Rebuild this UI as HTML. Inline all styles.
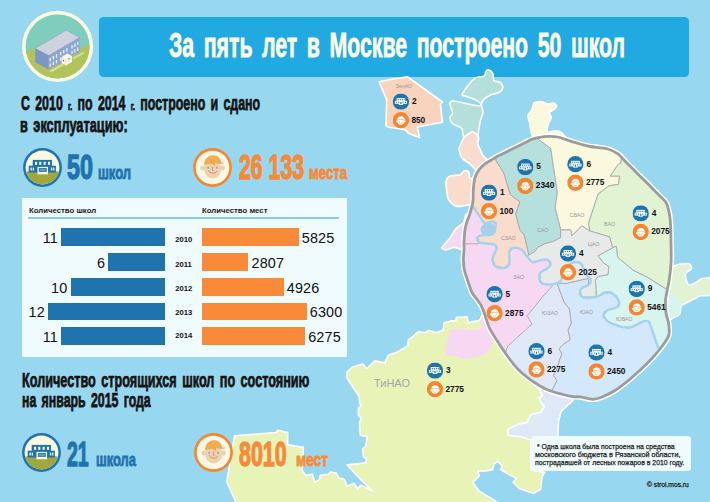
<!DOCTYPE html>
<html><head><meta charset="utf-8">
<style>
*{margin:0;padding:0;box-sizing:border-box}
html,body{width:710px;height:502px;overflow:hidden;background:#98d7f0}
body{position:relative;font-family:"Liberation Sans",sans-serif}
.abs{position:absolute}
.cond{position:absolute;white-space:nowrap;font-weight:bold;transform-origin:0 0;line-height:1}
#map{position:absolute;left:0;top:0;width:710px;height:502px}
#hdr{position:absolute;left:99px;top:17px;width:589.5px;height:59.6px;background:#21a9e2;border-radius:4.5px}
#panel{position:absolute;left:22px;top:198px;width:325px;height:159px;background:#effbfd}
.bar{position:absolute;height:18px}
.b{background:#1f74ad}
.o{background:#f88a3a}
.num{position:absolute;font-size:14.4px;letter-spacing:0.15px;color:#111;line-height:1;white-space:nowrap}
.lbl{position:absolute;font-size:8px;font-weight:bold;color:#1a1a1a;line-height:1;white-space:nowrap}
.yr{position:absolute;font-size:7.6px;font-weight:bold;color:#111;line-height:1}
#note{position:absolute;left:531px;top:436.3px;width:160.3px;height:34.3px;background:#effbfd;border-radius:3px}
.nt{position:absolute;font-size:7.6px;-webkit-text-stroke:0.25px #1a1a1a;color:#1a1a1a;white-space:nowrap;line-height:1;transform-origin:0 0}
.mn{font-size:8.3px;font-weight:bold;fill:#111;font-family:"Liberation Sans",sans-serif}
text{font-family:"Liberation Sans",sans-serif}
</style></head>
<body>

<div id="hdr"></div>
<svg id="map" viewBox="0 0 710 502">
<path d="M347.0,371.8 L346.9,377.8 L352.0,386.0 L358.8,395.7 L359.8,403.7 L361.4,405.1 L358.4,408.1 L358.4,415.2 L361.4,418.3 L359.4,422.3 L360.4,435.5 L367.5,436.5 L365.5,446.7 L362.5,448.7 L363.5,456.8 L366.5,458.8 L365.5,462.9 L347.2,464.9 L360.4,479.1 L372.6,491.3 L363.5,486.2 L360.4,485.2 L357.4,489.2 L354.3,483.2 L347.2,486.2 L344.2,479.1 L339.1,478.1 L336.1,473.0 L330.4,472.0 L328.2,474.2 L320.3,475.4 L319.2,479.9 L314.6,482.1 L312.4,474.2 L305.6,475.4 L302.3,470.8 L303.4,447.2 L287.6,444.9 L287.6,432.5 L277.5,430.3 L276.3,432.5 L234.6,435.9 L226.8,482.0 L235.8,502.0 L235.8,520.0 L497.0,520.0 L497.0,502.0 L479.2,491.3 L472.8,482.4 L479.2,476.0 L477.9,471.0 L485.6,471.0 L492.7,469.6 L494.1,464.0 L497.6,461.1 L502.5,466.1 L500.4,469.6 L516.6,478.7 L513.1,482.3 L519.4,488.6 L533.5,493.5 L540.6,489.3 L542.0,476.6 L544.8,472.4 L531.0,470.0 L531.0,437.0 L520.6,436.8 L507.9,435.0 L507.9,429.2 L518.9,424.0 L527.3,422.4 L530.7,414.8 L540.8,412.3 L544.2,406.3 L541.7,403.8 L539.2,397.9 L542.5,395.4 L539.2,388.6 L525.0,370.0 L500.0,330.0 L482.0,315.0 L480.2,319.5 L478.1,320.9 L472.6,321.6 L468.4,323.0 L467.0,316.7 L462.1,317.4 L456.5,317.4 L455.8,320.9 L450.9,320.9 L444.0,323.0 L443.3,330.0 L436.3,332.8 L428.7,330.3 L424.9,332.8 L418.6,331.6 L409.7,339.2 L408.6,339.0 L407.6,345.9 L397.7,351.9 L388.7,354.9 L384.7,362.9 L374.8,360.9 L366.8,368.8 L362.8,363.9 L352.9,366.9Z" fill="#e8f3b8" stroke="#fff" stroke-width="1.6" stroke-linejoin="round"/>
<path d="M535.0,383.0 L573.0,393.0 L573.0,400.4 L561.1,411.4 L558.6,420.7 L557.7,440.0 L531.0,440.0 L520.6,436.8 L507.9,435.0 L507.9,429.2 L518.9,424.0 L527.3,422.4 L530.7,414.8 L540.8,412.3 L544.2,406.3 L541.7,403.8 L539.2,397.9 L542.5,395.4 L539.2,388.6Z" fill="#dfe8f6" stroke="#fff" stroke-width="1.6" stroke-linejoin="round"/>
<path d="M445.3,355.1 C444.5,353.7 446.4,344.5 447.0,342.0 C447.6,339.5 449.4,331.3 450.9,330.0 C452.4,328.7 460.0,328.6 462.1,328.6 C464.2,328.6 469.9,330.1 471.9,330.0 C473.8,329.9 480.8,328.8 481.6,327.9 C482.4,327.0 480.0,321.9 480.2,320.9 C480.4,319.9 482.7,317.7 483.7,318.1 C484.7,318.5 489.0,322.8 490.0,325.0 C491.0,327.2 494.0,337.6 494.0,340.0 C494.0,342.4 490.8,347.4 490.0,348.8 C489.2,350.2 488.0,352.6 485.8,353.7 C483.6,354.8 470.8,359.1 467.7,359.3 C464.6,359.5 457.3,356.2 455.1,355.8 C452.9,355.4 446.1,356.5 445.3,355.1Z" fill="#f7d8f3"/>
<path d="M379.1,81.8 L393.0,79.0 L407.6,76.9 L442.5,102.0 L440.4,104.0 L442.5,122.2 L417.4,127.0 L419.5,137.5 L408.3,133.3 L405.5,129.8 L388.0,127.0 L386.0,125.7 L386.7,99.9Z" fill="#f8d4bc" stroke="#fff" stroke-width="1.6" stroke-linejoin="round"/>
<path d="M488.4,69.9 C489.6,70.2 492.0,71.7 492.9,73.5 C493.8,75.3 492.6,79.1 493.8,80.6 C495.0,82.1 498.6,81.2 500.1,82.4 C501.6,83.6 503.0,86.2 502.8,87.8 C502.6,89.4 501.3,91.1 499.2,92.3 C497.1,93.5 492.9,93.7 490.2,95.0 C487.5,96.3 484.5,98.8 483.0,100.4 C481.5,102.0 481.3,102.9 481.3,104.8 C481.3,106.7 483.1,109.3 483.0,112.0 C482.9,114.7 481.1,118.0 480.4,121.0 C479.7,124.0 479.1,127.6 478.6,130.0 C478.2,132.4 478.8,135.0 477.7,135.3 C476.6,135.6 474.6,131.4 472.3,131.7 C470.1,132.0 466.0,137.7 464.2,137.1 C462.4,136.5 463.4,130.4 461.5,128.2 C459.6,126.0 454.5,125.5 452.6,123.7 C450.7,121.9 449.9,119.2 449.9,117.4 C449.9,115.6 452.6,115.1 452.6,112.9 C452.6,110.7 449.9,106.0 449.9,104.0 C449.9,102.0 450.4,101.2 452.6,101.0 C454.8,100.8 459.2,102.2 463.3,103.0 C467.4,103.8 474.6,105.5 477.5,105.8 C480.4,106.0 481.2,105.4 481.0,104.5 C480.8,103.6 479.0,101.8 476.5,100.4 C474.0,99.0 468.3,97.3 466.0,96.2 C463.7,95.1 461.1,96.7 462.5,93.8 C463.9,90.9 470.5,81.8 474.1,78.8 C477.7,75.8 482.1,77.3 484.0,76.1 C485.9,74.9 485.0,72.7 485.7,71.7 C486.4,70.7 487.2,69.6 488.4,69.9Z" fill="#b4dfda" stroke="#fff" stroke-width="1.6" stroke-linejoin="round"/>
<path d="M464.2,137.1 C464.7,136.6 471.6,131.8 472.3,131.7 C473.0,131.6 477.4,134.9 477.7,135.3 C478.0,135.7 478.6,138.5 478.6,138.9 C478.6,139.3 477.6,143.7 477.7,144.3 C477.8,144.9 480.2,149.5 480.4,150.0 C480.6,150.5 482.1,154.4 482.5,155.0 C482.9,155.6 488.5,160.8 488.3,161.6 C488.1,162.4 478.9,171.9 478.0,172.0 C477.1,172.1 470.8,164.7 470.0,164.0 C469.2,163.3 462.6,159.1 462.0,158.3 C461.4,157.6 458.8,149.8 458.8,149.0 C458.8,148.2 461.2,143.1 461.5,142.5 C461.8,141.9 463.7,137.6 464.2,137.1Z" fill="#f9dcd0" stroke="#fff" stroke-width="1.6" stroke-linejoin="round"/>
<path d="M446.0,182.0 C446.5,179.3 447.7,177.2 450.0,176.0 C452.3,174.8 457.6,175.8 459.9,175.0 C462.2,174.2 462.4,171.5 463.9,171.0 C465.4,170.5 467.8,170.8 468.8,172.0 C469.8,173.2 468.9,176.3 469.8,178.0 C470.7,179.7 473.5,177.2 474.0,182.0 C474.5,186.8 473.7,203.2 473.0,207.0 C472.3,210.8 472.7,204.9 470.0,204.8 C467.3,204.7 460.3,207.1 456.7,206.2 C453.1,205.3 450.0,201.6 448.4,199.2 C446.8,196.8 447.4,194.9 447.0,192.0 C446.6,189.1 445.5,184.7 446.0,182.0Z" fill="#f9dccb" stroke="#fff" stroke-width="1.6" stroke-linejoin="round"/>
<path d="M466.0,214.0 L463.7,222.9 L456.0,228.5 L450.0,238.0 L441.4,248.0 L445.6,250.1 L454.0,247.3 L463.0,250.0 L463.0,230.0Z" fill="#f7d8f3" stroke="#fff" stroke-width="1.6" stroke-linejoin="round"/>
<path d="M533.3,104.8 C533.8,103.6 532.9,103.5 534.2,103.0 C535.5,102.5 539.1,101.4 541.3,101.6 C543.5,101.8 545.5,103.8 547.6,104.0 C549.7,104.2 552.4,102.6 553.9,103.0 C555.4,103.4 556.8,105.4 556.6,106.6 C556.5,107.8 554.2,109.2 553.0,110.2 C551.8,111.2 549.7,111.3 549.4,112.5 C549.1,113.7 551.4,115.4 551.2,117.4 C551.0,119.4 548.6,122.2 548.0,124.6 C547.4,127.0 546.5,130.6 547.6,131.7 C548.7,132.8 552.7,130.9 554.8,130.9 C556.9,130.9 558.3,130.8 560.0,131.7 C561.7,132.6 563.2,134.6 565.2,136.5 C567.2,138.4 575.4,140.8 572.0,143.0 C568.6,145.2 551.6,151.3 545.0,150.0 C538.4,148.7 534.9,139.8 532.4,135.3 C529.9,130.8 530.5,126.1 529.7,122.8 C529.0,119.5 527.6,117.7 527.9,115.6 C528.2,113.5 530.6,112.0 531.5,110.2 C532.4,108.4 532.8,106.0 533.3,104.8Z" fill="#faf8dd" stroke="#fff" stroke-width="1.6" stroke-linejoin="round"/>
<path d="M668.0,262.0 C670.0,256.4 670.1,265.8 671.9,266.2 C673.7,266.6 675.9,264.9 678.7,264.5 C681.5,264.1 686.7,262.9 688.8,263.6 C690.9,264.3 691.8,267.1 691.4,268.7 C691.0,270.2 687.3,271.6 686.3,272.9 C685.3,274.2 685.1,274.3 685.5,276.3 C685.9,278.3 687.0,283.8 688.8,284.8 C690.6,285.8 694.4,283.2 696.5,282.2 C698.6,281.2 699.7,279.5 701.5,278.8 C703.3,278.1 705.8,278.0 707.5,278.0 C709.2,278.0 711.2,276.1 712.0,278.8 C712.8,281.5 713.9,291.3 712.0,294.1 C710.1,296.9 703.7,295.0 700.7,295.8 C697.7,296.6 696.4,297.8 693.9,299.1 C691.4,300.4 687.6,302.3 685.5,303.4 C683.4,304.5 682.2,304.1 681.2,305.9 C680.2,307.7 680.9,312.4 679.5,314.4 C678.1,316.4 674.6,316.9 672.8,317.8 C671.0,318.7 670.6,322.5 668.5,319.5 C666.4,316.5 660.1,309.6 660.0,300.0 C659.9,290.4 666.0,267.6 668.0,262.0Z" fill="#e1f3d2" stroke="#fff" stroke-width="1.6" stroke-linejoin="round"/>
<path d="M666.8,290.7 L675.3,295.8 L682.1,304.2 L681.2,305.9 L679.5,314.4 L672.8,317.8 L668.5,319.5 L662.0,310.0Z" fill="#d8f4ee"/>
<defs><clipPath id="rc"><path d="M464.0,250.0 C464.1,246.9 463.8,245.0 464.0,241.6 C464.2,238.2 464.5,233.0 465.0,229.7 C465.5,226.4 466.2,224.4 467.0,221.7 C467.8,219.0 468.9,217.0 469.9,213.7 C470.9,210.4 472.3,205.8 472.9,201.8 C473.5,197.8 473.0,193.8 473.3,189.8 C473.6,185.8 474.0,181.2 474.9,177.9 C475.8,174.6 477.2,172.2 478.9,169.9 C480.6,167.6 483.0,165.5 484.9,163.9 C486.8,162.3 488.2,161.8 490.5,160.5 C492.8,159.2 495.1,157.6 498.5,155.8 C501.9,154.0 506.9,151.7 511.1,149.6 C515.3,147.5 520.3,145.1 523.8,143.3 C527.3,141.6 529.7,140.1 532.3,139.1 C534.9,138.1 536.5,137.9 539.3,137.4 C542.1,136.9 546.2,136.4 549.2,136.3 C552.2,136.2 554.3,136.3 557.6,137.0 C560.9,137.7 565.1,139.3 568.9,140.5 C572.6,141.7 576.6,143.0 580.1,144.0 C583.6,145.0 585.4,145.7 590.0,146.5 C594.6,147.3 603.2,147.8 607.9,149.0 C612.5,150.2 614.9,151.8 617.9,153.9 C620.9,156.1 622.6,158.6 625.9,161.9 C629.2,165.2 633.8,169.9 637.8,173.9 C641.8,177.9 645.8,181.8 649.8,185.8 C653.8,189.8 658.9,194.8 661.7,197.8 C664.5,200.8 665.4,200.7 666.7,203.7 C668.0,206.7 669.0,211.7 669.7,215.7 C670.4,219.7 670.5,222.9 670.7,227.6 C670.9,232.3 670.9,238.3 671.0,244.0 C671.1,249.7 671.4,256.1 671.1,261.9 C670.8,267.7 670.1,273.7 669.4,278.8 C668.7,283.9 667.4,288.7 666.8,292.4 C666.1,296.1 665.6,297.4 665.5,300.8 C665.4,304.2 665.5,309.0 666.0,312.7 C666.5,316.4 668.0,319.9 668.5,322.8 C669.0,325.7 669.2,327.7 669.2,330.0 C669.2,332.3 669.7,333.5 668.4,336.4 C667.1,339.3 664.0,343.8 661.2,347.5 C658.4,351.2 655.2,355.0 651.7,358.7 C648.2,362.4 644.5,366.1 640.5,369.8 C636.5,373.5 632.0,377.6 627.8,381.0 C623.5,384.4 619.2,387.9 615.0,390.5 C610.8,393.1 606.0,395.4 602.3,396.9 C598.6,398.4 596.4,399.3 592.7,399.3 C589.0,399.3 583.6,397.4 580.0,396.9 C576.4,396.4 576.0,397.3 571.0,396.3 C566.0,395.3 555.4,392.7 550.0,390.8 C544.6,388.9 542.2,387.2 538.5,385.0 C534.8,382.8 531.4,380.5 527.9,377.8 C524.4,375.1 521.0,372.4 517.5,368.7 C514.0,365.0 510.6,360.5 507.2,355.8 C503.8,351.1 499.8,345.1 496.8,340.3 C493.8,335.6 491.2,332.0 489.1,327.3 C487.0,322.6 485.3,315.7 483.9,311.9 C482.5,308.1 481.9,306.9 480.7,304.7 C479.5,302.5 477.9,300.8 476.5,298.8 C475.1,296.8 473.3,295.1 472.0,292.5 C470.7,289.9 469.9,287.0 468.6,283.3 C467.4,279.6 465.4,274.3 464.5,270.4 C463.6,266.5 463.5,263.4 463.4,260.0 C463.3,256.6 463.9,253.1 464.0,250.0Z"/></clipPath></defs>
<path d="M464.0,250.0 C464.1,246.9 463.8,245.0 464.0,241.6 C464.2,238.2 464.5,233.0 465.0,229.7 C465.5,226.4 466.2,224.4 467.0,221.7 C467.8,219.0 468.9,217.0 469.9,213.7 C470.9,210.4 472.3,205.8 472.9,201.8 C473.5,197.8 473.0,193.8 473.3,189.8 C473.6,185.8 474.0,181.2 474.9,177.9 C475.8,174.6 477.2,172.2 478.9,169.9 C480.6,167.6 483.0,165.5 484.9,163.9 C486.8,162.3 488.2,161.8 490.5,160.5 C492.8,159.2 495.1,157.6 498.5,155.8 C501.9,154.0 506.9,151.7 511.1,149.6 C515.3,147.5 520.3,145.1 523.8,143.3 C527.3,141.6 529.7,140.1 532.3,139.1 C534.9,138.1 536.5,137.9 539.3,137.4 C542.1,136.9 546.2,136.4 549.2,136.3 C552.2,136.2 554.3,136.3 557.6,137.0 C560.9,137.7 565.1,139.3 568.9,140.5 C572.6,141.7 576.6,143.0 580.1,144.0 C583.6,145.0 585.4,145.7 590.0,146.5 C594.6,147.3 603.2,147.8 607.9,149.0 C612.5,150.2 614.9,151.8 617.9,153.9 C620.9,156.1 622.6,158.6 625.9,161.9 C629.2,165.2 633.8,169.9 637.8,173.9 C641.8,177.9 645.8,181.8 649.8,185.8 C653.8,189.8 658.9,194.8 661.7,197.8 C664.5,200.8 665.4,200.7 666.7,203.7 C668.0,206.7 669.0,211.7 669.7,215.7 C670.4,219.7 670.5,222.9 670.7,227.6 C670.9,232.3 670.9,238.3 671.0,244.0 C671.1,249.7 671.4,256.1 671.1,261.9 C670.8,267.7 670.1,273.7 669.4,278.8 C668.7,283.9 667.4,288.7 666.8,292.4 C666.1,296.1 665.6,297.4 665.5,300.8 C665.4,304.2 665.5,309.0 666.0,312.7 C666.5,316.4 668.0,319.9 668.5,322.8 C669.0,325.7 669.2,327.7 669.2,330.0 C669.2,332.3 669.7,333.5 668.4,336.4 C667.1,339.3 664.0,343.8 661.2,347.5 C658.4,351.2 655.2,355.0 651.7,358.7 C648.2,362.4 644.5,366.1 640.5,369.8 C636.5,373.5 632.0,377.6 627.8,381.0 C623.5,384.4 619.2,387.9 615.0,390.5 C610.8,393.1 606.0,395.4 602.3,396.9 C598.6,398.4 596.4,399.3 592.7,399.3 C589.0,399.3 583.6,397.4 580.0,396.9 C576.4,396.4 576.0,397.3 571.0,396.3 C566.0,395.3 555.4,392.7 550.0,390.8 C544.6,388.9 542.2,387.2 538.5,385.0 C534.8,382.8 531.4,380.5 527.9,377.8 C524.4,375.1 521.0,372.4 517.5,368.7 C514.0,365.0 510.6,360.5 507.2,355.8 C503.8,351.1 499.8,345.1 496.8,340.3 C493.8,335.6 491.2,332.0 489.1,327.3 C487.0,322.6 485.3,315.7 483.9,311.9 C482.5,308.1 481.9,306.9 480.7,304.7 C479.5,302.5 477.9,300.8 476.5,298.8 C475.1,296.8 473.3,295.1 472.0,292.5 C470.7,289.9 469.9,287.0 468.6,283.3 C467.4,279.6 465.4,274.3 464.5,270.4 C463.6,266.5 463.5,263.4 463.4,260.0 C463.3,256.6 463.9,253.1 464.0,250.0Z" fill="none" stroke="#fff" stroke-width="5.6"/>
<g clip-path="url(#rc)">
<path d="M430.0,200.0 L700.0,200.0 L700.0,420.0 L430.0,420.0Z" fill="#f7d8f3"/>
<path d="M430.0,130.0 L496.0,130.0 L496.0,160.5 L503.7,172.6 L510.3,194.5 L520.0,202.0 L515.7,214.0 L520.0,230.0 L524.3,235.0 L528.8,254.4 L527.5,257.0 L521.1,249.2 L513.3,247.9 L509.4,251.8 L509.4,263.5 L504.2,268.0 L495.2,266.1 L492.6,258.3 L496.5,249.2 L495.5,245.0 L490.0,243.8 L479.0,242.4 L477.7,236.8 L481.8,235.4 L491.6,234.0 L495.8,225.0 L493.0,221.5 L484.6,222.9 L480.4,217.3 L474.2,208.2 L472.0,205.0 L430.0,205.0Z" fill="#f9dccb" stroke="#a9a9a9" stroke-width="0.9" stroke-linejoin="round"/>
<path d="M496.0,120.0 L535.0,120.0 L537.6,138.6 L550.8,148.5 L553.0,164.0 L557.4,192.3 L555.2,207.6 L560.8,229.9 L560.5,237.6 L553.4,241.5 L545.7,243.4 L537.9,247.3 L534.7,251.8 L527.5,255.7 L528.8,254.4 L524.3,235.0 L520.0,230.0 L515.7,214.0 L520.0,202.0 L510.3,194.5 L503.7,172.6 L496.0,160.5Z" fill="#b5e0dd" stroke="#a9a9a9" stroke-width="0.9" stroke-linejoin="round"/>
<path d="M535.0,120.0 L625.0,120.0 L621.0,163.0 L618.5,164.2 L610.2,176.0 L619.7,176.0 L618.5,184.5 L609.0,185.7 L598.2,194.0 L588.7,222.7 L589.7,230.9 L581.8,225.9 L571.8,235.9 L570.8,229.9 L560.8,229.9 L555.2,207.6 L557.4,192.3 L553.0,164.0 L550.8,148.5 L537.6,138.6Z" fill="#faf8dd" stroke="#a9a9a9" stroke-width="0.9" stroke-linejoin="round"/>
<path d="M625.0,120.0 L700.0,120.0 L700.0,285.0 L666.5,289.3 L647.4,277.4 L633.0,270.2 L617.5,257.0 L616.3,246.3 L612.6,247.8 L609.6,236.9 L589.7,230.9 L588.7,222.7 L598.2,194.0 L609.0,185.7 L618.5,184.5 L619.7,176.0 L610.2,176.0 L618.5,164.2 L621.0,163.0Z" fill="#e1f3d2" stroke="#a9a9a9" stroke-width="0.9" stroke-linejoin="round"/>
<path d="M612.6,247.8 L616.3,246.3 L617.5,257.0 L633.0,270.2 L647.4,277.4 L666.5,289.3 L700.0,300.0 L700.0,360.0 L658.0,347.0 L651.0,327.0 L648.5,321.2 L642.0,322.0 L630.0,327.5 L620.0,326.5 L608.8,322.1 L603.4,315.9 L607.0,310.5 L617.8,306.9 L618.7,300.6 L612.4,293.4 L605.2,292.5 L598.0,296.1 L596.3,297.0 L595.4,280.0 L598.0,276.4 L607.9,274.6 L608.8,266.5 L603.4,262.9 L598.0,255.8Z" fill="#d8f4ee" stroke="#a9a9a9" stroke-width="0.9" stroke-linejoin="round"/>
<path d="M556.8,283.0 L565.8,283.6 L572.9,281.8 L589.1,278.2 L588.2,284.5 L580.1,289.8 L581.9,297.0 L596.3,297.0 L598.0,296.1 L605.2,292.5 L612.4,293.4 L618.7,300.6 L617.8,306.9 L607.0,310.5 L603.4,315.9 L608.8,322.1 L620.0,326.5 L630.0,327.5 L642.0,322.0 L648.5,321.2 L651.0,327.0 L658.0,347.0 L700.0,380.0 L600.0,420.0 L551.0,392.3 L557.0,380.3 L553.4,375.5 L556.2,370.7 L559.4,360.0 L561.8,353.8 L559.0,349.0 L563.0,344.5 L570.1,339.8 L568.0,330.0 L571.2,323.0 L569.3,308.7 L564.0,302.4Z" fill="#d3e8fb" stroke="#a9a9a9" stroke-width="0.9" stroke-linejoin="round"/>
<path d="M554.0,284.0 L556.8,283.0 L564.0,302.4 L569.3,308.7 L571.2,323.0 L568.0,330.0 L570.1,339.8 L563.0,344.5 L559.0,349.0 L561.8,353.8 L559.4,360.0 L556.2,370.7 L553.4,375.5 L557.0,380.3 L551.0,392.3 L540.0,420.0 L480.0,420.0 L507.7,346.2 L531.9,324.2 L527.2,315.8 L542.7,296.7Z" fill="#e0e8f8" stroke="#a9a9a9" stroke-width="0.9" stroke-linejoin="round"/>
<path d="M527.5,257.0 L527.5,255.7 L534.7,251.8 L537.9,247.3 L545.7,243.4 L553.4,241.5 L560.5,237.6 L560.8,229.9 L570.8,229.9 L571.8,235.9 L581.8,225.9 L589.7,230.9 L609.6,236.9 L612.6,247.8 L598.0,255.8 L603.4,262.9 L608.8,266.5 L607.9,274.6 L598.0,276.4 L595.4,280.0 L596.3,297.0 L581.9,297.0 L580.1,289.8 L588.2,284.5 L589.1,278.2 L572.9,281.8 L565.8,283.6 L556.8,282.7 L553.4,284.2 L544.4,284.2 L539.8,280.3 L540.5,272.5 L547.0,268.7 L550.8,264.1 L547.0,259.6 L540.5,260.2 L532.7,262.2Z" fill="#e8eaea" stroke="#a9a9a9" stroke-width="0.9" stroke-linejoin="round"/>
<line x1="462" y1="243.8" x2="478.5" y2="243.8" stroke="#a9a9a9" stroke-width="0.9"/>
<ellipse cx="488.5" cy="229.5" rx="8" ry="6.8" fill="#a7cfeb"/>
<path d="M472.0,205.0 C472.4,205.5 472.8,206.1 474.2,208.2 C475.6,210.2 478.7,214.9 480.4,217.3 C482.1,219.8 482.5,222.2 484.6,222.9 C486.7,223.6 491.1,221.2 493.0,221.5 C494.9,221.8 496.0,222.9 495.8,225.0 C495.6,227.1 493.9,232.3 491.6,234.0 C489.3,235.7 484.1,234.9 481.8,235.4 C479.5,235.9 478.2,235.6 477.7,236.8 C477.2,238.0 476.9,241.2 479.0,242.4 C481.1,243.6 487.2,243.4 490.0,243.8 C492.8,244.2 494.4,244.1 495.5,245.0 C496.6,245.9 497.0,247.0 496.5,249.2 C496.0,251.4 492.8,255.5 492.6,258.3 C492.4,261.1 493.3,264.5 495.2,266.1 C497.1,267.7 501.8,268.4 504.2,268.0 C506.6,267.6 508.5,266.2 509.4,263.5 C510.3,260.8 508.8,254.4 509.4,251.8 C510.0,249.2 511.3,248.3 513.3,247.9 C515.2,247.5 518.7,247.7 521.1,249.2 C523.5,250.7 525.6,254.8 527.5,257.0 C529.4,259.2 530.5,261.7 532.7,262.2 C534.9,262.7 538.1,260.6 540.5,260.2 C542.9,259.8 545.3,259.0 547.0,259.6 C548.7,260.2 550.8,262.6 550.8,264.1 C550.8,265.6 548.7,267.3 547.0,268.7 C545.3,270.1 541.7,270.6 540.5,272.5 C539.3,274.4 539.1,278.4 539.8,280.3 C540.4,282.2 542.1,283.6 544.4,284.2 C546.7,284.8 550.8,284.6 553.4,284.2 C556.0,283.8 558.3,283.0 559.9,281.6 C561.5,280.2 561.4,278.8 563.0,276.0 C564.6,273.2 567.0,267.0 569.3,264.7 C571.5,262.4 574.4,262.0 576.5,262.0 C578.6,262.0 580.2,262.6 581.9,264.7 C583.5,266.8 584.9,272.1 586.4,274.6 C587.9,277.2 590.6,278.2 590.9,280.0 C591.2,281.8 589.7,284.1 588.2,285.4 C586.7,286.7 583.2,286.5 581.9,288.0 C580.5,289.5 579.5,292.7 580.1,294.3 C580.7,295.9 582.5,297.6 585.5,297.9 C588.5,298.2 594.7,297.0 598.0,296.1 C601.3,295.2 602.8,292.9 605.2,292.5 C607.6,292.1 610.1,292.0 612.4,293.4 C614.6,294.8 617.8,298.4 618.7,300.6 C619.6,302.9 619.8,305.2 617.8,306.9 C615.8,308.5 609.4,309.0 607.0,310.5 C604.6,312.0 603.1,314.0 603.4,315.9 C603.7,317.8 606.0,320.3 608.8,322.1 C611.6,323.9 616.5,325.6 620.0,326.5 C623.5,327.4 626.3,328.2 630.0,327.5 C633.7,326.8 638.9,323.1 642.0,322.0 C645.1,320.9 647.0,320.4 648.5,321.2 C650.0,322.0 649.4,322.7 651.0,327.0 C652.6,331.3 656.3,342.8 658.0,347.0 C659.7,351.2 660.5,351.2 661.0,352.0" fill="none" stroke="#a5d3ef" stroke-width="2.4" stroke-linecap="round" stroke-linejoin="round"/>
</g>
<path d="M464.0,250.0 C464.1,246.9 463.8,245.0 464.0,241.6 C464.2,238.2 464.5,233.0 465.0,229.7 C465.5,226.4 466.2,224.4 467.0,221.7 C467.8,219.0 468.9,217.0 469.9,213.7 C470.9,210.4 472.3,205.8 472.9,201.8 C473.5,197.8 473.0,193.8 473.3,189.8 C473.6,185.8 474.0,181.2 474.9,177.9 C475.8,174.6 477.2,172.2 478.9,169.9 C480.6,167.6 483.0,165.5 484.9,163.9 C486.8,162.3 488.2,161.8 490.5,160.5 C492.8,159.2 495.1,157.6 498.5,155.8 C501.9,154.0 506.9,151.7 511.1,149.6 C515.3,147.5 520.3,145.1 523.8,143.3 C527.3,141.6 529.7,140.1 532.3,139.1 C534.9,138.1 536.5,137.9 539.3,137.4 C542.1,136.9 546.2,136.4 549.2,136.3 C552.2,136.2 554.3,136.3 557.6,137.0 C560.9,137.7 565.1,139.3 568.9,140.5 C572.6,141.7 576.6,143.0 580.1,144.0 C583.6,145.0 585.4,145.7 590.0,146.5 C594.6,147.3 603.2,147.8 607.9,149.0 C612.5,150.2 614.9,151.8 617.9,153.9 C620.9,156.1 622.6,158.6 625.9,161.9 C629.2,165.2 633.8,169.9 637.8,173.9 C641.8,177.9 645.8,181.8 649.8,185.8 C653.8,189.8 658.9,194.8 661.7,197.8 C664.5,200.8 665.4,200.7 666.7,203.7 C668.0,206.7 669.0,211.7 669.7,215.7 C670.4,219.7 670.5,222.9 670.7,227.6 C670.9,232.3 670.9,238.3 671.0,244.0 C671.1,249.7 671.4,256.1 671.1,261.9 C670.8,267.7 670.1,273.7 669.4,278.8 C668.7,283.9 667.4,288.7 666.8,292.4 C666.1,296.1 665.6,297.4 665.5,300.8 C665.4,304.2 665.5,309.0 666.0,312.7 C666.5,316.4 668.0,319.9 668.5,322.8 C669.0,325.7 669.2,327.7 669.2,330.0 C669.2,332.3 669.7,333.5 668.4,336.4 C667.1,339.3 664.0,343.8 661.2,347.5 C658.4,351.2 655.2,355.0 651.7,358.7 C648.2,362.4 644.5,366.1 640.5,369.8 C636.5,373.5 632.0,377.6 627.8,381.0 C623.5,384.4 619.2,387.9 615.0,390.5 C610.8,393.1 606.0,395.4 602.3,396.9 C598.6,398.4 596.4,399.3 592.7,399.3 C589.0,399.3 583.6,397.4 580.0,396.9 C576.4,396.4 576.0,397.3 571.0,396.3 C566.0,395.3 555.4,392.7 550.0,390.8 C544.6,388.9 542.2,387.2 538.5,385.0 C534.8,382.8 531.4,380.5 527.9,377.8 C524.4,375.1 521.0,372.4 517.5,368.7 C514.0,365.0 510.6,360.5 507.2,355.8 C503.8,351.1 499.8,345.1 496.8,340.3 C493.8,335.6 491.2,332.0 489.1,327.3 C487.0,322.6 485.3,315.7 483.9,311.9 C482.5,308.1 481.9,306.9 480.7,304.7 C479.5,302.5 477.9,300.8 476.5,298.8 C475.1,296.8 473.3,295.1 472.0,292.5 C470.7,289.9 469.9,287.0 468.6,283.3 C467.4,279.6 465.4,274.3 464.5,270.4 C463.6,266.5 463.5,263.4 463.4,260.0 C463.3,256.6 463.9,253.1 464.0,250.0Z" fill="none" stroke="#9c9c9c" stroke-width="2.8"/>
</svg>
<div class="cond" id="ttl" style="left:169.0px;top:28.3px;font-size:34.6px;transform:scaleX(0.615);color:#fdfbe8;-webkit-text-stroke:0.8px #fdfbe8;word-spacing:6px">За пять лет в Москве построено 50 школ</div>

<svg class="abs" style="left:0;top:0" width="100" height="90" viewBox="0 0 100 90">
<defs><clipPath id="hic"><circle cx="57.6" cy="46.4" r="32.0"/></clipPath></defs>
<circle cx="57.6" cy="46.4" r="35.6" fill="#fcf9e1"/>
<g clip-path="url(#hic)">
<rect x="20" y="10" width="80" height="80" fill="#7fcdbd"/>
<path d="M20,53.2 L35.2,48.6 L79.7,48.6 L95,42.5 L95,90 L20,90Z" fill="#b2c35c"/>
<path d="M72,57.8 L83,52 L84.5,53.6 L73.5,59.5Z" fill="#cfe190"/>
</g>
<path d="M35.2,48.4 L66.3,30.2 L79.7,37.5 L48.7,55.6Z" fill="#cdd2de" stroke="#8fa4cf" stroke-width="0.6"/>
<path d="M35.2,48.4 L48.7,55.6 L48.7,69.6 L35.2,62.3Z" fill="#7d96c4"/>
<path d="M48.7,55.6 L79.7,37.5 L79.7,52 L48.7,69.6Z" fill="#8ea6d3"/>
<g fill="#eef2fa">
<rect x="49.61" y="57.92" width="1.3" height="3.3"/>
<rect x="49.61" y="63.52" width="1.3" height="3.3"/>
<rect x="52.72" y="56.10" width="1.3" height="3.3"/>
<rect x="52.72" y="61.70" width="1.3" height="3.3"/>
<rect x="55.82" y="54.29" width="1.3" height="3.3"/>
<rect x="55.82" y="59.89" width="1.3" height="3.3"/>
<rect x="59.97" y="51.87" width="1.3" height="3.3"/>
<rect x="59.97" y="57.47" width="1.3" height="3.3"/>
<rect x="63.08" y="50.05" width="1.3" height="3.3"/>
<rect x="63.08" y="55.65" width="1.3" height="3.3"/>
<rect x="66.19" y="48.24" width="1.3" height="3.3"/>
<rect x="66.19" y="53.84" width="1.3" height="3.3"/>
<rect x="71.37" y="45.21" width="1.3" height="3.3"/>
<rect x="71.37" y="50.81" width="1.3" height="3.3"/>
<rect x="74.17" y="43.58" width="1.3" height="3.3"/>
<rect x="74.17" y="49.18" width="1.3" height="3.3"/>
<rect x="77.07" y="41.89" width="1.3" height="3.3"/>
<rect x="77.07" y="47.49" width="1.3" height="3.3"/>
</g>
<path d="M49.5,70.8 L62.5,63.6 L64,65.2 L51,72.4Z" fill="#cfe190"/>
<path d="M61.6,57 L67.5,53.5 L72,56 L72,62 L66,65.5 L61.6,63Z" fill="#fbf7e6"/>
<path d="M61.6,57 L66,59.5 L72,56 L66,65.5Z" fill="#e9e6d3" opacity="0.6"/>
<rect x="63" y="60" width="1" height="1.5" fill="#556b9a"/><rect x="68.5" y="58" width="1" height="1.5" fill="#556b9a"/>
</svg>

<div class="cond" id="t1" style="left:21.0px;top:93.0px;font-size:20px;transform:scaleX(0.619);color:#141414;-webkit-text-stroke:0.75px #141414;word-spacing:3px">С 2010 <span style="font-size:11.5px">г.</span> по 2014 <span style="font-size:11.5px">г.</span> построено и сдано</div>
<div class="cond" id="t2" style="left:20.4px;top:114.5px;font-size:20px;transform:scaleX(0.639);color:#141414;-webkit-text-stroke:0.75px #141414;word-spacing:3px">в эксплуатацию:</div>

<div class="cond" id="n50" style="left:66.7px;top:149.9px;font-size:34.5px;transform:scaleX(0.676);color:#2173ad;-webkit-text-stroke:1.3px #2173ad">50</div>
<div class="cond" id="w50" style="left:98.3px;top:165.3px;font-size:17.7px;transform:scaleX(0.737);color:#2173ad;-webkit-text-stroke:0.8px #2173ad">школ</div>
<div class="cond" id="n26" style="left:238.6px;top:149.9px;font-size:34.5px;transform:scaleX(0.617);color:#f78a38;-webkit-text-stroke:1.3px #f78a38">26 133</div>
<div class="cond" id="w26" style="left:308.7px;top:165.3px;font-size:17.7px;transform:scaleX(0.745);color:#f78a38;-webkit-text-stroke:0.8px #f78a38">места</div>

<div id="panel"></div>
<div class="lbl" style="left:28.5px;top:207px;transform:scaleX(0.97);transform-origin:0 0">Количество школ</div>
<div class="lbl" style="left:201.5px;top:207px;transform:scaleX(0.97);transform-origin:0 0">Количество мест</div>
<div class="abs" style="left:28px;top:217.2px;width:311px;height:1.7px;background:#8ecbe9"></div>
<div class="bar b" style="left:61.2px;top:228.2px;width:104.2px;height:17.8px"></div>
<div class="bar o" style="left:201.5px;top:228.2px;width:97.1px;height:17.8px"></div>
<div class="num" style="right:652.0px;top:231.0px">11</div>
<div class="num" style="left:301.8px;top:231.0px">5825</div>
<div class="yr" style="left:175.3px;top:236.2px">2010</div>
<div class="bar b" style="left:108.3px;top:253.0px;width:57.1px;height:17.8px"></div>
<div class="bar o" style="left:201.5px;top:253.0px;width:46.8px;height:17.8px"></div>
<div class="num" style="right:604.9px;top:255.8px">6</div>
<div class="num" style="left:251.5px;top:255.8px">2807</div>
<div class="yr" style="left:175.3px;top:260.9px">2011</div>
<div class="bar b" style="left:70.5px;top:277.8px;width:94.9px;height:17.8px"></div>
<div class="bar o" style="left:201.5px;top:277.8px;width:82.1px;height:17.8px"></div>
<div class="num" style="right:642.7px;top:280.6px">10</div>
<div class="num" style="left:286.8px;top:280.6px">4926</div>
<div class="yr" style="left:175.3px;top:285.0px">2012</div>
<div class="bar b" style="left:48px;top:302.6px;width:117.4px;height:17.8px"></div>
<div class="bar o" style="left:201.5px;top:302.6px;width:105.1px;height:17.8px"></div>
<div class="num" style="right:665.2px;top:305.4px">12</div>
<div class="num" style="left:309.8px;top:305.4px">6300</div>
<div class="yr" style="left:175.3px;top:308.5px">2013</div>
<div class="bar b" style="left:61.2px;top:327.4px;width:104.2px;height:17.8px"></div>
<div class="bar o" style="left:201.5px;top:327.4px;width:103.5px;height:17.8px"></div>
<div class="num" style="right:652.0px;top:330.2px">11</div>
<div class="num" style="left:308.2px;top:330.2px">6275</div>
<div class="yr" style="left:175.3px;top:332.1px">2014</div>

<div class="cond" id="s1" style="left:22.1px;top:370.0px;font-size:20px;transform:scaleX(0.633);color:#141414;-webkit-text-stroke:0.75px #141414;word-spacing:3px">Количество строящихся школ по состоянию</div>
<div class="cond" id="s2" style="left:22.1px;top:390.3px;font-size:20px;transform:scaleX(0.617);color:#141414;-webkit-text-stroke:0.75px #141414;word-spacing:3px">на январь 2015 года</div>

<div class="cond" id="n21" style="left:67.0px;top:437.3px;font-size:34.5px;transform:scaleX(0.565);color:#2173ad;-webkit-text-stroke:1.3px #2173ad">21</div>
<div class="cond" id="w21" style="left:96.2px;top:452.3px;font-size:17.7px;transform:scaleX(0.729);color:#2173ad;-webkit-text-stroke:0.8px #2173ad">школа</div>
<div class="cond" id="n80" style="left:238.9px;top:437.3px;font-size:34.5px;transform:scaleX(0.620);color:#f78a38;-webkit-text-stroke:1.3px #f78a38">8010</div>
<div class="cond" id="w80" style="left:296.2px;top:452.4px;font-size:17.7px;transform:scaleX(0.775);color:#f78a38;-webkit-text-stroke:0.8px #f78a38">мест</div>

<div id="note"></div>
<div class="nt" style="left:537.3px;top:442.8px;transform:scaleX(0.906)">* Одна школа была построена на средства</div>
<div class="nt" style="left:535.1px;top:451px;transform:scaleX(0.947)">московского бюджета в Рязанской области,</div>
<div class="nt" style="left:535.1px;top:459.3px;transform:scaleX(0.907)">пострадавшей от лесных пожаров в 2010 году.</div>
<div class="nt" style="left:647.2px;top:481.6px;font-size:6.8px;transform:scaleX(0.986)">© stroi.mos.ru</div>
<!--ICONS-->
<svg width="0" height="0" style="position:absolute">
<defs>
<symbol id="mb" viewBox="-8.2 -8.2 16.4 16.4">
<circle r="8.2" fill="#1f74ae"/>
<rect x="-4.3" y="-3.5" width="8.6" height="3" fill="#fff"/>
<rect x="-6.1" y="-0.7" width="12.2" height="2.9" fill="#fff"/>
<rect x="-2.2" y="1.5" width="4.4" height="1.8" fill="#fff"/>
<g fill="#1f74ae"><rect x="-3.2" y="-2.6" width="1" height="1.3"/><rect x="-1.1" y="-2.6" width="1" height="1.3"/><rect x="1" y="-2.6" width="1" height="1.3"/><rect x="3" y="-2.6" width="0.7" height="1.3"/>
<rect x="-5.1" y="0.1" width="1" height="1.2"/><rect x="4.1" y="0.1" width="1" height="1.2"/><rect x="-2.6" y="0.1" width="1" height="1.2"/><rect x="1.6" y="0.1" width="1" height="1.2"/><rect x="-0.6" y="0.4" width="1.2" height="2"/></g>
</symbol>
<symbol id="mo" viewBox="-8.2 -8.2 16.4 16.4">
<circle r="8.2" fill="#f5862f"/>
<g transform="translate(0,0.4) scale(0.86)">
<circle cx="0" cy="0.6" r="4.3" fill="#fff"/>
<circle cx="-4.4" cy="0.9" r="1.2" fill="#fff"/><circle cx="4.4" cy="0.9" r="1.2" fill="#fff"/>
<path d="M-4.2,-1 C-4.2,-4.6 -1.5,-5.2 0.5,-5 C3,-4.8 4.2,-3.3 4.6,-1.6 L5.6,-1.4 L4.3,-0.6 C2,-1.6 -1,-1.8 -4.2,-1Z" fill="#fff"/>
<path d="M-4,-0.8 C-1,-1.8 2,-1.5 4.4,-0.7" fill="none" stroke="#f5862f" stroke-width="0.6"/>
<circle cx="-1.8" cy="0.6" r="0.55" fill="#f5862f"/><circle cx="1.8" cy="0.6" r="0.55" fill="#f5862f"/>
<path d="M-1.8,2.4 Q0,4 1.8,2.4" fill="none" stroke="#f5862f" stroke-width="0.6"/>
</g>
</symbol>
<symbol id="bs" viewBox="-19.5 -19.5 39 39">
<clipPath id="bsc"><circle r="16.9"/></clipPath>
<circle r="19.4" fill="#1f74b0"/>
<circle r="16.9" fill="#fbf8e2"/>
<g clip-path="url(#bsc)"><ellipse cx="0" cy="31" rx="40" ry="29.3" fill="#a0a83b"/></g>
<rect x="-9.8" y="-7.6" width="19.3" height="6.6" fill="#1f74b0"/>
<rect x="-13.8" y="-1.8" width="27.2" height="6.8" fill="#1f74b0"/>
<g fill="#fbf8e2">
<rect x="-7.5" y="-5.7" width="2.1" height="3"/><rect x="-3.3" y="-5.7" width="2.1" height="3"/><rect x="1.1" y="-5.7" width="2.1" height="3"/><rect x="5.5" y="-5.7" width="2.1" height="3"/>
<rect x="-12" y="0.1" width="1.3" height="2.9"/><rect x="-9.8" y="0.1" width="1.3" height="2.9"/>
<rect x="8.4" y="0.1" width="1.3" height="2.9"/><rect x="10.6" y="0.1" width="1.3" height="2.9"/>
<rect x="-5" y="-0.6" width="10.5" height="7.4"/>
</g>
<rect x="-3.6" y="0.5" width="7.9" height="3.9" fill="#2a7fb5"/>
<rect x="-2.4" y="1.4" width="5.5" height="2.1" fill="#53a3c9"/>
</symbol>
<symbol id="bf" viewBox="-19.5 -19.5 39 39">
<circle r="19.4" fill="#f7852c"/>
<circle r="16.8" fill="#fdf8e6"/>
<circle cx="-9.6" cy="0.6" r="2.5" fill="#ebd3b0"/><circle cx="9.8" cy="0.6" r="2.5" fill="#ebd3b0"/>
<ellipse cx="0.2" cy="1.8" rx="8.5" ry="9.1" fill="#ebd3b0"/>
<path d="M-8.4,-2.2 C-8.4,-9 -4,-12.3 1,-12.2 C5.5,-12 8.2,-8.8 8.8,-5 C10,-4.8 11,-4.9 11.6,-4.3 C8,-3.2 5,-3.4 2.5,-5.2 C3,-3.2 2.6,-2.3 2,-1.8 C0,-4.5 -4,-3.5 -8.4,-2.2Z" fill="#f3ac55"/>
<path d="M-4.5,-9.5 C-2,-8.5 1,-6 2.2,-2.5" fill="none" stroke="#e99a3e" stroke-width="0.7"/>
<circle cx="-4.4" cy="0.2" r="1" fill="#8ca8c8"/><circle cx="4.4" cy="0.2" r="1" fill="#8ca8c8"/>
<path d="M0,-0.6 C-1.5,0.5 1.8,2.2 0.2,3.4" fill="none" stroke="#ee7575" stroke-width="0.9" stroke-linecap="round"/>
<path d="M-4.2,3 C-2.8,6.5 2.8,6.8 4.4,3.6" fill="none" stroke="#ee7575" stroke-width="0.9" stroke-linecap="round"/>
</symbol>
</defs></svg>
<svg class="abs" style="left:22.6px;top:148.0px" width="39" height="39"><use href="#bs"/></svg>
<svg class="abs" style="left:193.2px;top:147.8px" width="39" height="39"><use href="#bf"/></svg>
<svg class="abs" style="left:22.3px;top:432.7px" width="39" height="39"><use href="#bs"/></svg>
<svg class="abs" style="left:193.5px;top:432.7px" width="39" height="39"><use href="#bf"/></svg>
<svg class="abs" style="left:0;top:0" width="710" height="502" viewBox="0 0 710 502">
<use href="#mb" x="392.7" y="93.4" width="16.4" height="16.4"/>
<use href="#mo" x="392.7" y="112.0" width="16.4" height="16.4"/>
<text x="411.9" y="103.8" class="mn">2</text>
<text x="411.4" y="122.6" class="mn">850</text>
<use href="#mb" x="517.1" y="158.9" width="16.4" height="16.4"/>
<use href="#mo" x="517.1" y="177.7" width="16.4" height="16.4"/>
<text x="536.3" y="169.3" class="mn">5</text>
<text x="535.8" y="188.3" class="mn">2340</text>
<use href="#mb" x="480.8" y="184.4" width="16.4" height="16.4"/>
<use href="#mo" x="480.8" y="203.0" width="16.4" height="16.4"/>
<text x="500.0" y="194.8" class="mn">1</text>
<text x="499.5" y="213.6" class="mn">100</text>
<use href="#mb" x="567.2" y="156.1" width="16.4" height="16.4"/>
<use href="#mo" x="567.2" y="174.5" width="16.4" height="16.4"/>
<text x="586.4" y="166.5" class="mn">6</text>
<text x="585.9" y="185.1" class="mn">2775</text>
<use href="#mb" x="632.5" y="205.2" width="16.4" height="16.4"/>
<use href="#mo" x="632.5" y="223.8" width="16.4" height="16.4"/>
<text x="651.7" y="215.6" class="mn">4</text>
<text x="651.2" y="234.4" class="mn">2075</text>
<use href="#mb" x="559.8" y="245.3" width="16.4" height="16.4"/>
<use href="#mo" x="559.8" y="264.0" width="16.4" height="16.4"/>
<text x="579.0" y="255.7" class="mn">4</text>
<text x="578.5" y="274.6" class="mn">2025</text>
<use href="#mb" x="486.4" y="286.1" width="16.4" height="16.4"/>
<use href="#mo" x="486.4" y="305.0" width="16.4" height="16.4"/>
<text x="505.6" y="296.5" class="mn">5</text>
<text x="505.1" y="315.6" class="mn">2875</text>
<use href="#mb" x="628.5" y="280.7" width="16.4" height="16.4"/>
<use href="#mo" x="628.5" y="299.3" width="16.4" height="16.4"/>
<text x="647.7" y="291.1" class="mn">9</text>
<text x="647.2" y="309.9" class="mn">5461</text>
<use href="#mb" x="528.3" y="343.1" width="16.4" height="16.4"/>
<use href="#mo" x="528.3" y="361.3" width="16.4" height="16.4"/>
<text x="547.5" y="353.5" class="mn">6</text>
<text x="547.0" y="371.9" class="mn">2275</text>
<use href="#mb" x="588.3" y="344.3" width="16.4" height="16.4"/>
<use href="#mo" x="588.3" y="363.3" width="16.4" height="16.4"/>
<text x="607.5" y="354.7" class="mn">4</text>
<text x="607.0" y="373.9" class="mn">2450</text>
<use href="#mb" x="426.8" y="362.4" width="16.4" height="16.4"/>
<use href="#mo" x="426.8" y="381.0" width="16.4" height="16.4"/>
<text x="446.0" y="372.8" class="mn">3</text>
<text x="445.5" y="391.6" class="mn">2775</text>
<text x="395.8" y="87.5" style="font-size:5.2px;fill:#9a9a9a">ЗелАО</text>
<text x="569.5" y="217" style="font-size:5.4px;fill:#9a9a9a">СВАО</text>
<text x="604" y="226" style="font-size:5.4px;fill:#9a9a9a">ВАО</text>
<text x="537" y="232" style="font-size:5.4px;fill:#9a9a9a">САО</text>
<text x="501" y="240" style="font-size:5.4px;fill:#9a9a9a">СЗАО</text>
<text x="587.7" y="246" style="font-size:5.4px;fill:#9a9a9a">ЦАО</text>
<text x="513.3" y="279" style="font-size:5.4px;fill:#9a9a9a">ЗАО</text>
<text x="541.7" y="314.5" style="font-size:5.4px;fill:#9a9a9a">ЮЗАО</text>
<text x="580" y="313.5" style="font-size:5.4px;fill:#9a9a9a">ЮАО</text>
<text x="616" y="320.5" style="font-size:5.4px;fill:#9a9a9a">ЮВАО</text>
<text x="374" y="386.5" style="font-size:11px;fill:#a5a5a5">ТиНАО</text>
</svg>
<!--/ICONS-->
</body></html>
